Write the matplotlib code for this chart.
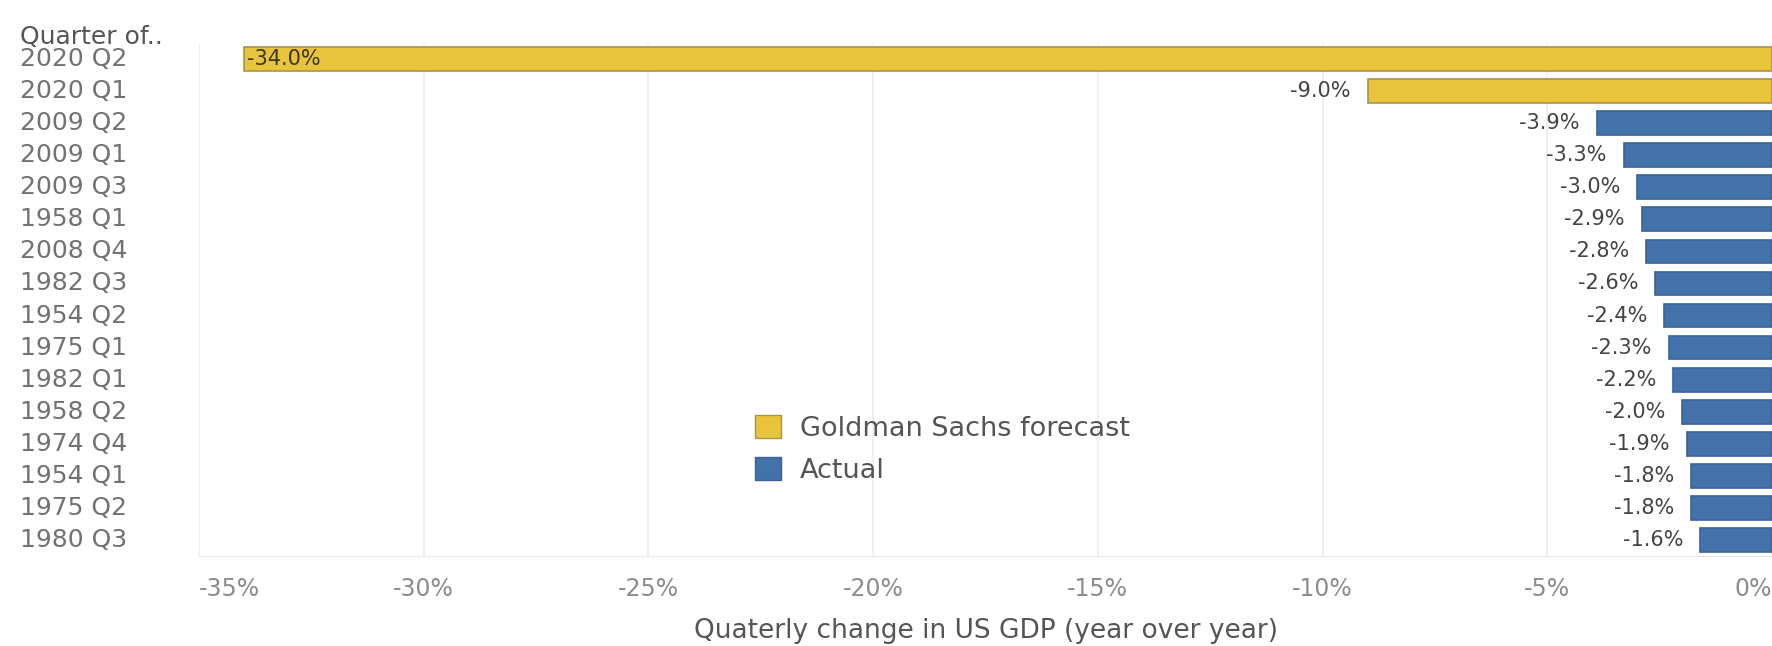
import matplotlib
matplotlib.use("Agg")
import matplotlib.pyplot as plt
from matplotlib import transforms
from matplotlib.patches import Patch

# --- data -------------------------------------------------------------
quarters = ["2020 Q2", "2020 Q1", "2009 Q2", "2009 Q1", "2009 Q3", "1958 Q1",
            "2008 Q4", "1982 Q3", "1954 Q2", "1975 Q1", "1982 Q1", "1958 Q2",
            "1974 Q4", "1954 Q1", "1975 Q2", "1980 Q3"]
gdp_change = [-34.0, -9.0, -3.9, -3.3, -3.0, -2.9, -2.8, -2.6, -2.4, -2.3,
              -2.2, -2.0, -1.9, -1.8, -1.8, -1.6]
series = ["forecast", "forecast"] + ["actual"] * 14
legend_labels = ["Goldman Sachs forecast", "Actual"]
x_ticks = [-35, -30, -25, -20, -15, -10, -5, 0]
x_tick_labels = ["-35%", "-30%", "-25%", "-20%", "-15%", "-10%", "-5%", "0%"]

# --- style ------------------------------------------------------------
YELLOW = "#E8C43C"
YELLOW_EDGE = "#A8924A"
BLUE = "#4371AA"
BLUE_EDGE = "#3A6297"
fill = {"forecast": YELLOW, "actual": BLUE}
edge = {"forecast": YELLOW_EDGE, "actual": BLUE_EDGE}

plt.rcParams["font.family"] = ["DejaVu Sans"]

W, H = 1772, 646
fig = plt.figure(figsize=(W / 100, H / 100), dpi=100)
ax = fig.add_axes([199 / W, 1 - 556 / H, 1 - 199 / W, (556 - 43) / H])

ypos = list(range(len(quarters)))
ax.barh(ypos, gdp_change, height=0.74,
        color=[fill[s] for s in series],
        edgecolor=[edge[s] for s in series], linewidth=1.2, zorder=3)

ax.set_xlim(-35, 0)
ax.set_ylim(len(quarters) - 0.5, -0.5)

# light vertical gridlines, no frame except a faint baseline
ax.set_xticks(x_ticks)
ax.grid(axis="x", color="#EEEEEE", linewidth=1.2, zorder=0)
for side in ["top", "right"]:
    ax.spines[side].set_visible(False)
ax.spines["left"].set_color("#EEEEEE")
ax.spines["bottom"].set_color("#E6E6E6")
ax.tick_params(axis="both", length=0)
ax.set_yticks([])

# x tick labels, edge labels kept inside the pane
ax.set_xticklabels(x_tick_labels, fontsize=17, color="#8C8C8C")
ax.tick_params(axis="x", pad=15)
tls = ax.get_xticklabels()
tls[0].set_horizontalalignment("left")
tls[-1].set_horizontalalignment("right")

ax.set_xlabel("Quaterly change in US GDP (year over year)", fontsize=19,
              color="#555555", labelpad=12)

# row labels, left-aligned in the figure margin
row_tr = transforms.blended_transform_factory(fig.transFigure, ax.transData)
for i, q in enumerate(quarters):
    fig.text(20 / W, i, q, transform=row_tr, ha="left", va="center",
             fontsize=18, color="#727272")
fig.text(20 / W, 1 - 37 / H, "Quarter of..", ha="left", va="center",
         fontsize=18, color="#555555")

# value labels
for i, v in enumerate(gdp_change):
    label = f"{v:.1f}%"
    if v <= -30:
        off = transforms.offset_copy(ax.transData, fig=fig, x=3, y=0, units="dots")
        ax.text(v, i, label, transform=off, ha="left", va="center",
                fontsize=15, color="#3A3520", zorder=4)
    else:
        off = transforms.offset_copy(ax.transData, fig=fig, x=-17, y=0, units="dots")
        ax.text(v, i, label, transform=off, ha="right", va="center",
                fontsize=15, color="#444444", zorder=4)

# legend
handles = [Patch(facecolor=YELLOW, edgecolor=YELLOW_EDGE, linewidth=1.0),
           Patch(facecolor=BLUE, edgecolor=BLUE_EDGE, linewidth=1.0)]
fig.legend(handles, legend_labels, loc="upper left",
           bbox_to_anchor=(755 / W, 1 - 415 / H), bbox_transform=fig.transFigure,
           frameon=False, fontsize=19.5, handlelength=0.95, handleheight=0.95,
           handletextpad=0.7, labelspacing=0.55, borderpad=0, borderaxespad=0,
           labelcolor="#555555")

fig.savefig("out.png", dpi=100, facecolor="white")
